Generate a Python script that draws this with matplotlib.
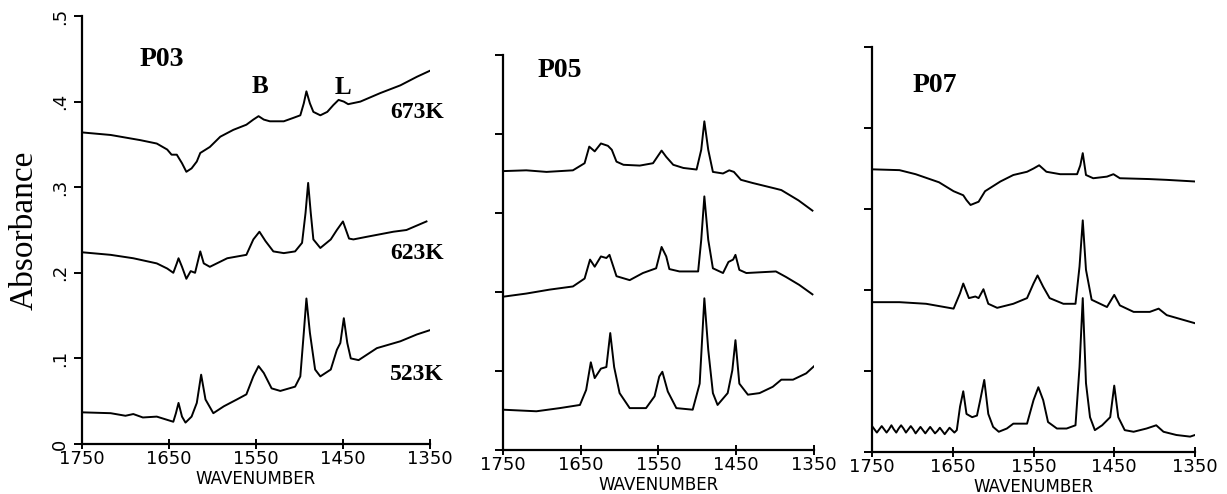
import matplotlib
matplotlib.use("Agg")
import matplotlib.pyplot as plt

# ---- data (wavenumber, absorbance) ----
# P03
p03_673_wn = [1750, 1717, 1683, 1664, 1652, 1647, 1641, 1635, 1630, 1624, 1618, 1614, 1603, 1591, 1576,
              1561, 1553, 1547, 1541, 1534, 1518, 1507, 1499, 1495, 1492, 1488, 1484, 1476, 1468, 1461,
              1455, 1449, 1444, 1430, 1407, 1384, 1365, 1348]
p03_673_ab = [0.364, 0.361, 0.355, 0.351, 0.344, 0.338, 0.338, 0.328, 0.318, 0.322, 0.330, 0.340, 0.347,
              0.359, 0.367, 0.373, 0.379, 0.383, 0.379, 0.377, 0.377, 0.381, 0.384, 0.398, 0.412, 0.398,
              0.388, 0.384, 0.388, 0.396, 0.402, 0.400, 0.397, 0.400, 0.410, 0.419, 0.429, 0.437]

p03_623_wn = [1750, 1717, 1691, 1664, 1652, 1645, 1641, 1639, 1635, 1630, 1625, 1620, 1614, 1610, 1603,
              1583, 1561, 1553, 1546, 1539, 1530, 1518, 1505, 1497, 1493, 1490, 1487, 1484, 1476, 1464,
              1457, 1450, 1443, 1438, 1423, 1392, 1377, 1354]
p03_623_ab = [0.224, 0.221, 0.217, 0.211, 0.205, 0.200, 0.211, 0.217, 0.207, 0.193, 0.202, 0.200, 0.225,
              0.211, 0.207, 0.217, 0.221, 0.239, 0.248, 0.237, 0.225, 0.223, 0.225, 0.235, 0.270, 0.305,
              0.270, 0.239, 0.229, 0.239, 0.250, 0.260, 0.240, 0.239, 0.242, 0.248, 0.250, 0.260]

p03_523_wn = [1750, 1717, 1700, 1691, 1680, 1664, 1645, 1642, 1639, 1635, 1631, 1624, 1618, 1613, 1608,
              1599, 1587, 1572, 1561, 1553, 1547, 1541, 1532, 1522, 1505, 1499, 1495, 1492, 1488, 1482,
              1476, 1464, 1457, 1453, 1449, 1445, 1441, 1432, 1411, 1384, 1365, 1350]
p03_523_ab = [0.037, 0.036, 0.033, 0.035, 0.031, 0.032, 0.026, 0.036, 0.048, 0.032, 0.025, 0.032, 0.048,
              0.081, 0.052, 0.036, 0.044, 0.052, 0.058, 0.079, 0.091, 0.083, 0.065, 0.062, 0.067, 0.079,
              0.130, 0.170, 0.130, 0.087, 0.079, 0.087, 0.110, 0.118, 0.147, 0.118, 0.100, 0.098, 0.112,
              0.120, 0.128, 0.133]

# P05
p05_top_wn = [1750, 1720, 1694, 1660, 1645, 1639, 1632, 1624, 1615, 1610, 1604, 1595, 1574, 1557, 1546,
              1540, 1531, 1518, 1501, 1495, 1491, 1486, 1480, 1467, 1459, 1453, 1444, 1429, 1400, 1392,
              1370, 1352]
p05_top_ab = [0.353, 0.354, 0.352, 0.354, 0.363, 0.384, 0.378, 0.388, 0.385, 0.380, 0.365, 0.361, 0.360,
              0.363, 0.379, 0.371, 0.361, 0.357, 0.355, 0.380, 0.416, 0.380, 0.352, 0.350, 0.354, 0.352,
              0.342, 0.338, 0.331, 0.329, 0.316, 0.303]

p05_mid_wn = [1750, 1720, 1690, 1660, 1645, 1638, 1632, 1624, 1617, 1613, 1608, 1604, 1587, 1570, 1553,
              1546, 1540, 1536, 1523, 1499, 1495, 1491, 1486, 1480, 1467, 1460, 1454, 1451, 1446, 1437,
              1399, 1386, 1369, 1352]
p05_mid_ab = [0.194, 0.198, 0.203, 0.207, 0.217, 0.241, 0.232, 0.245, 0.243, 0.247, 0.232, 0.220, 0.215,
              0.224, 0.230, 0.257, 0.245, 0.229, 0.226, 0.226, 0.266, 0.321, 0.266, 0.230, 0.224, 0.238,
              0.241, 0.247, 0.228, 0.224, 0.226, 0.219, 0.209, 0.197]

p05_bot_wn = [1750, 1707, 1677, 1651, 1643, 1637, 1632, 1624, 1617, 1612, 1607, 1600, 1587, 1566, 1555,
              1549, 1545, 1538, 1527, 1506, 1497, 1491, 1486, 1480, 1474, 1461, 1455, 1451, 1446, 1435,
              1420, 1403, 1392, 1377, 1360, 1350]
p05_bot_ab = [0.051, 0.049, 0.053, 0.057, 0.076, 0.111, 0.091, 0.103, 0.105, 0.148, 0.105, 0.072, 0.053,
              0.053, 0.068, 0.093, 0.099, 0.074, 0.053, 0.051, 0.084, 0.192, 0.127, 0.072, 0.057, 0.072,
              0.101, 0.139, 0.084, 0.070, 0.072, 0.080, 0.089, 0.089, 0.097, 0.106]

# P07
p07_top_wn = [1750, 1716, 1696, 1667, 1649, 1637, 1633, 1628, 1618, 1610, 1591, 1575, 1558, 1550, 1543,
              1534, 1517, 1496, 1492, 1489, 1485, 1476, 1459, 1451, 1443, 1407, 1385, 1350]
p07_top_ab = [0.349, 0.348, 0.343, 0.333, 0.322, 0.317, 0.311, 0.305, 0.309, 0.322, 0.334, 0.342, 0.346,
              0.350, 0.354, 0.346, 0.343, 0.343, 0.354, 0.369, 0.342, 0.338, 0.340, 0.343, 0.338, 0.337,
              0.336, 0.334]

p07_mid_wn = [1750, 1716, 1683, 1649, 1641, 1637, 1630, 1622, 1618, 1612, 1606, 1595, 1575, 1558, 1550,
              1545, 1538, 1530, 1513, 1498, 1493, 1489, 1485, 1478, 1459, 1450, 1443, 1426, 1406, 1395,
              1385, 1350]
p07_mid_ab = [0.185, 0.185, 0.183, 0.177, 0.196, 0.208, 0.190, 0.192, 0.190, 0.201, 0.183, 0.178, 0.183,
              0.190, 0.208, 0.218, 0.204, 0.190, 0.183, 0.183, 0.229, 0.286, 0.225, 0.188, 0.179, 0.194,
              0.181, 0.173, 0.173, 0.177, 0.169, 0.159]

p07_bot_wn = [1750, 1747, 1744, 1741, 1738, 1735, 1732, 1729, 1726, 1723, 1720, 1717, 1714, 1711, 1708,
              1705, 1702, 1699, 1696, 1693, 1690, 1687, 1684, 1681, 1678, 1675, 1672, 1669, 1666, 1663,
              1660, 1657, 1654, 1651, 1648, 1645, 1641, 1637, 1633, 1626, 1620, 1616, 1611, 1606, 1600,
              1593, 1583, 1575, 1558, 1550, 1544, 1538, 1532, 1521, 1509, 1498, 1493, 1489, 1485, 1480,
              1474, 1465, 1455, 1450, 1445, 1437, 1426, 1410, 1398, 1389, 1373, 1356, 1350]
p07_bot_ab = [0.032, 0.028, 0.024, 0.028, 0.032, 0.028, 0.024, 0.028, 0.033, 0.028, 0.024, 0.029, 0.033,
              0.029, 0.024, 0.028, 0.032, 0.028, 0.023, 0.027, 0.031, 0.027, 0.023, 0.027, 0.031, 0.027,
              0.023, 0.026, 0.030, 0.026, 0.022, 0.026, 0.030, 0.027, 0.024, 0.027, 0.056, 0.075, 0.047,
              0.043, 0.045, 0.064, 0.089, 0.047, 0.031, 0.025, 0.029, 0.035, 0.035, 0.064, 0.080, 0.064,
              0.037, 0.029, 0.029, 0.033, 0.105, 0.190, 0.085, 0.043, 0.027, 0.033, 0.043, 0.082, 0.043,
              0.027, 0.025, 0.029, 0.033, 0.025, 0.021, 0.019, 0.021]

xticks = [1750, 1650, 1550, 1450, 1350]
yticks = [0, 0.1, 0.2, 0.3, 0.4, 0.5]
ytick_labels = ["0", ".1", ".2", ".3", ".4", ".5"]

plt.rcParams["font.family"] = "DejaVu Sans"
fig = plt.figure(figsize=(12.27, 4.94), dpi=100)

positions = [
    [0.0668, 0.1012, 0.2836, 0.8664],
    [0.4099, 0.0891, 0.2535, 0.7996],
    [0.7107, 0.0850, 0.2632, 0.8198],
]
panels = [
    ("P03", [(p03_673_wn, p03_673_ab), (p03_623_wn, p03_623_ab), (p03_523_wn, p03_523_ab)], (1658, 0.449)),
    ("P05", [(p05_top_wn, p05_top_ab), (p05_mid_wn, p05_mid_ab), (p05_bot_wn, p05_bot_ab)], (1677, 0.480)),
    ("P07", [(p07_top_wn, p07_top_ab), (p07_mid_wn, p07_mid_ab), (p07_bot_wn, p07_bot_ab)], (1672, 0.453)),
]

serif = "Liberation Serif"
axes = []
for i, (name, traces, lab_pos) in enumerate(panels):
    ax = fig.add_axes(positions[i])
    for wn, ab in traces:
        ax.plot(wn, ab, color="black", lw=1.4)
    ax.set_xlim(1750, 1350)
    ax.set_ylim(0, 0.5)
    for s in ["top", "right"]:
        ax.spines[s].set_visible(False)
    for s in ["left", "bottom"]:
        ax.spines[s].set_linewidth(1.6)
    ax.set_xticks(xticks)
    ax.set_xticklabels([str(t) for t in xticks], fontsize=13)
    ax.tick_params(axis="x", direction="inout", length=7, width=1.4, pad=1)
    ax.set_yticks(yticks)
    ax.tick_params(axis="y", direction="out", length=6, width=1.4)
    if i == 0:
        ax.set_yticklabels(ytick_labels, rotation=90, fontsize=13, va="center")
        ax.set_ylabel("Absorbance", family=serif, fontsize=24, labelpad=8)
    else:
        ax.set_yticklabels([])
    ax.set_xlabel("WAVENUMBER", fontsize=12, labelpad=1)
    ax.text(lab_pos[0], lab_pos[1], name, family=serif, fontweight="bold", fontsize=20,
            ha="center", va="center")
    axes.append(ax)

ax = axes[0]
for txt, yv in [("673K", 0.387), ("623K", 0.223), ("523K", 0.081)]:
    ax.text(1365, yv, txt, family=serif, fontweight="bold", fontsize=17,
            ha="center", va="center", clip_on=False)
ax.text(1545, 0.418, "B", family=serif, fontweight="bold", fontsize=18, ha="center", va="center")
ax.text(1450, 0.417, "L", family=serif, fontweight="bold", fontsize=18, ha="center", va="center")

fig.savefig("out.png", dpi=100)
